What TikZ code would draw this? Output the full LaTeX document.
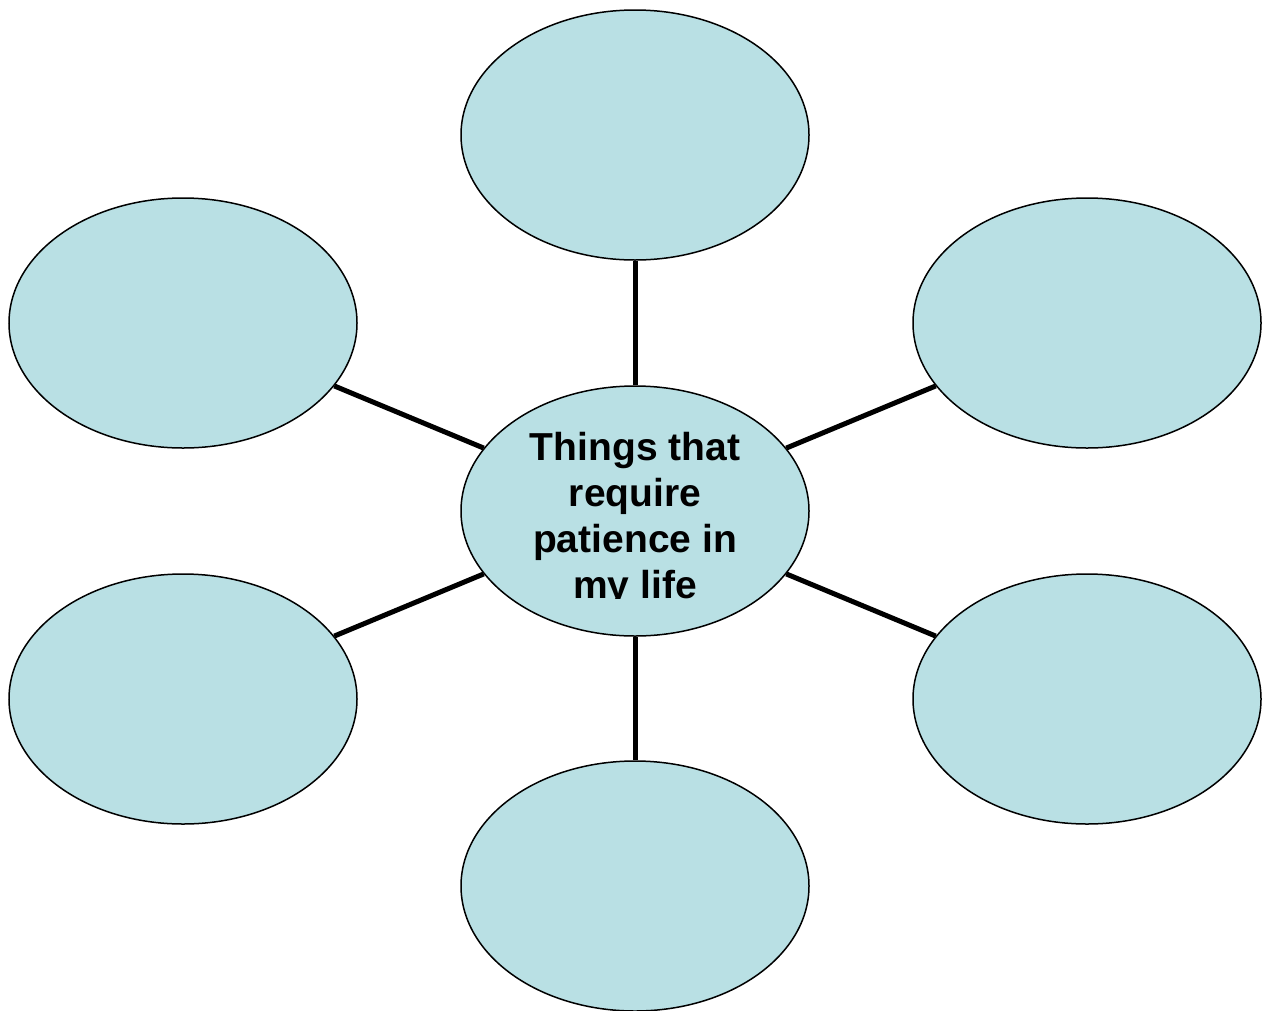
\documentclass[tikz,border=0pt]{standalone}
\usepackage{fontspec}
\setmainfont{Liberation Sans}
\usetikzlibrary{shapes.geometric}
\definecolor{bubble}{RGB}{185,224,228}
\begin{document}
\begin{tikzpicture}[x=1pt,y=-1pt,
  bubble/.style={ellipse,draw=black,line width=1.5pt,fill=bubble,minimum width=348pt,minimum height=250pt,inner sep=0pt},
  spoke/.style={line width=5pt,draw=black}]
\useasboundingbox (0,0) rectangle (1263,1010);
\node[bubble] (c) at (635,511) {};
\node[bubble] (t) at (635,135) {};
\node[bubble] (b) at (635,886) {};
\node[bubble] (tl) at (183,323) {};
\node[bubble] (tr) at (1087,323) {};
\node[bubble] (bl) at (183,699) {};
\node[bubble] (br) at (1087,699) {};
\foreach \n in {t,b,tl,tr,bl,br} \draw[spoke] (c) -- (\n);
\begin{scope}
\clip (0,0) rectangle (1263,598);
\node[anchor=base,align=center,font=\fontsize{39}{46}\selectfont\bfseries,inner sep=0pt] (ctext) at (635,598) {Things that\\require\\patience in\\my life};
\end{scope}
\end{tikzpicture}
\end{document}
